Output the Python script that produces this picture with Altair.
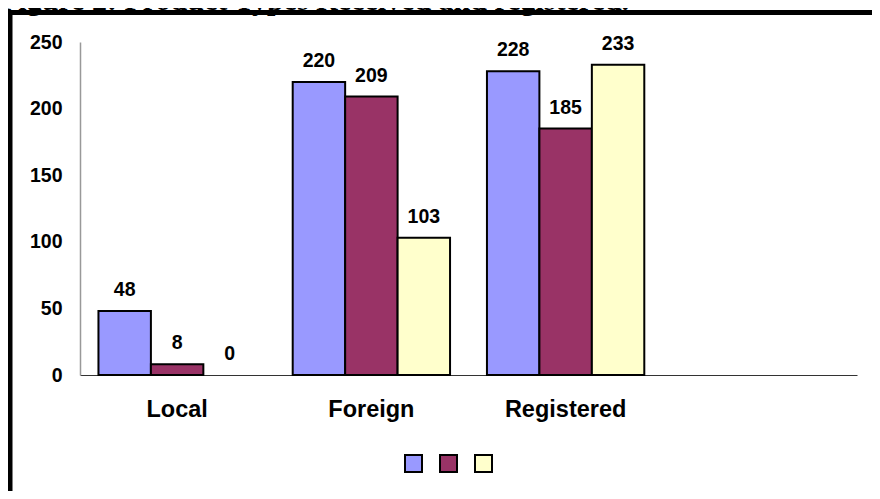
import altair as alt
import pandas as pd

categories = ["Local", "Foreign", "Registered"]
axis_domain = ["Local", "Foreign", "Registered", " "]
series_names = ["Series 1", "Series 2", "Series 3"]
series_colors = ["#9999FF", "#993366", "#FFFFCC"]
values_s1 = [48, 220, 228]
values_s2 = [8, 209, 185]
values_s3 = [0, 103, 233]
y_ticks = [0, 50, 100, 150, 200, 250]
title_text = "Figure 2:  Product Types Received and registered."

rows = []
for i, c in enumerate(categories):
    for s, vals in zip(series_names, [values_s1, values_s2, values_s3]):
        rows.append({"category": c, "series": s, "value": vals[i]})
df = pd.DataFrame(rows)

W, H = 777, 333

x_scale = alt.Scale(domain=axis_domain, paddingInner=0.19, paddingOuter=0.095)
x_enc = alt.X(
    "category:N",
    scale=x_scale,
    axis=alt.Axis(
        title=None, ticks=False, labelAngle=0, labelFont="Liberation Sans",
        labelFontWeight="bold", labelFontSize=23.5, labelColor="black",
        labelPadding=22, domainColor="#333333", domainWidth=1.2,
    ),
)
xoff = alt.XOffset("series:N", scale=alt.Scale(domain=series_names, paddingInner=0, paddingOuter=0))
y_enc = alt.Y(
    "value:Q",
    scale=alt.Scale(domain=[0, 250], nice=False),
    axis=alt.Axis(
        title=None, values=y_ticks, ticks=False, grid=False,
        labelFont="Liberation Sans", labelFontWeight="bold", labelFontSize=19.5,
        labelColor="black", labelPadding=18, domainColor="#999999", domainWidth=1.5,
    ),
)

base = alt.Chart(df)

bars = base.mark_bar(stroke="black", strokeWidth=2).encode(
    x=x_enc,
    xOffset=xoff,
    y=y_enc,
    strokeOpacity=alt.condition("datum.value == 0", alt.value(0), alt.value(1)),
    color=alt.Color(
        "series:N",
        scale=alt.Scale(domain=series_names, range=series_colors),
        legend=alt.Legend(
            title=None, orient="none", legendX=324, legendY=412,
            direction="horizontal", symbolType="square", symbolSize=289,
            symbolStrokeColor="black", symbolStrokeWidth=2,
            labelExpr="''", labelFontSize=1, labelOffset=0, columnPadding=10,
            padding=0,
        ),
    ),
)

labels = base.mark_text(
    font="Liberation Sans", fontWeight="bold", fontSize=19.5, color="black",
    baseline="alphabetic", dy=-15,
).encode(
    x=alt.X("category:N", scale=x_scale),
    xOffset=xoff,
    y=alt.Y("value:Q"),
    text=alt.Text("value:Q"),
)

one = pd.DataFrame({"t": [title_text]})

frame = alt.Chart(one).mark_rect(fill=None, stroke="black", strokeWidth=5).encode(
    x=alt.value(-70), x2=alt.value(830), y=alt.value(-29.5), y2=alt.value(470)
)

title = alt.Chart(one).mark_text(
    font="Liberation Serif", fontWeight="bold", fontSize=30, color="black",
    align="left", baseline="alphabetic",
).encode(x=alt.value(-80), y=alt.value(-32), text="t:N")

chart = alt.layer(frame, title, bars, labels).properties(
    width=W, height=H,
    autosize=alt.AutoSizeParams(type="none"),
    padding={"left": 72, "top": 34, "right": 15, "bottom": 116},
).configure(background="white").configure_view(stroke=None)

chart.save("out.html", embed_options={"renderer": "svg", "actions": False})
